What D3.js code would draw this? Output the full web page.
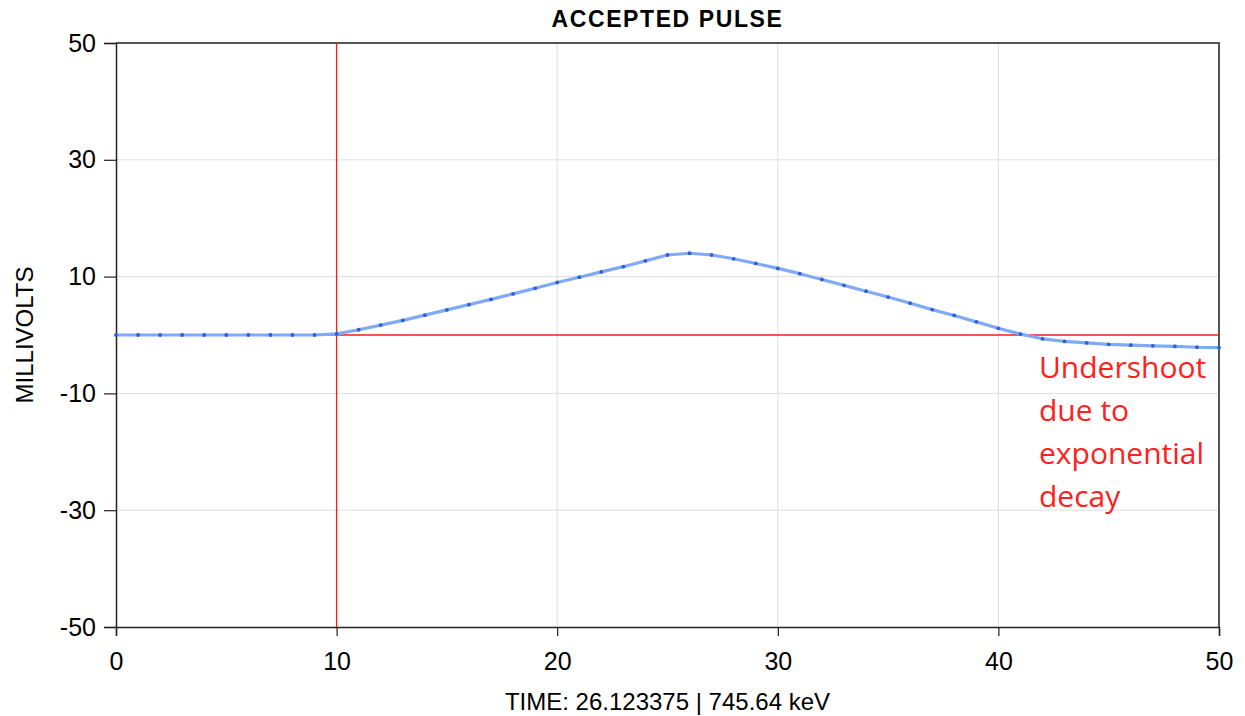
<!DOCTYPE html>
<html>
<head>
<meta charset="utf-8">
<script src="https://cdn.jsdelivr.net/npm/d3@7"></script>
<style>
  html, body { margin: 0; padding: 0; background: #fff; }
  svg { display: block; }
</style>
</head>
<body>
<svg id="chart" width="1245" height="716"></svg>
<script>
// Pulse samples: time (µs) and amplitude (mV)
const times = d3.range(0, 51);
const millivolts = [
  0, 0, 0, 0, 0, 0, 0, 0, 0, 0,
  0.2, 0.9, 1.7, 2.5, 3.4, 4.3, 5.2, 6.1, 7.05, 8.0,
  9.0, 9.9, 10.8, 11.7, 12.7, 13.7, 14.0, 13.7, 13.05, 12.25,
  11.4, 10.5, 9.5, 8.5, 7.5, 6.5, 5.45, 4.35, 3.35, 2.25,
  1.15, 0.15, -0.65, -1.1, -1.35, -1.6, -1.75, -1.85, -1.95, -2.1,
  -2.15
];
const xTicks = [0, 10, 20, 30, 40, 50];
const yTicks = [50, 30, 10, -10, -30, -50];
const triggerTime = 10;
const baseline = 0;
const chartTitle = "ACCEPTED PULSE";
const xTitle = "TIME: 26.123375 | 745.64 keV";
const yTitle = "MILLIVOLTS";
const noteLines = ["Undershoot", "due to", "exponential", "decay"];

const svg = d3.select("#chart");
const plotLeft = 116, plotRight = 1219, plotTop = 43, plotBottom = 627;
const sans = "Arial, 'Liberation Sans', sans-serif";

const x = d3.scaleLinear().domain([0, 50]).range([plotLeft, plotRight]);
const y = d3.scaleLinear().domain([-50, 50]).range([plotBottom, plotTop]);

// grid
const grid = svg.append("g").attr("stroke", "#dedede").attr("stroke-width", 1);
grid.selectAll("line.gx").data(xTicks.slice(1, -1)).join("line")
  .attr("x1", d => x(d)).attr("x2", d => x(d))
  .attr("y1", plotTop).attr("y2", plotBottom);
grid.selectAll("line.gy").data(yTicks.slice(1, -1)).join("line")
  .attr("x1", plotLeft).attr("x2", plotRight)
  .attr("y1", d => y(d)).attr("y2", d => y(d));

// frame (top and right)
svg.append("path")
  .attr("d", `M${plotLeft},${plotTop}H${plotRight}V${plotBottom}`)
  .attr("fill", "none").attr("stroke", "#555").attr("stroke-width", 2);

// axes (plain hyphen for negatives)
const plain = d => String(d);
const xAxis = svg.append("g").attr("transform", `translate(0,${plotBottom})`)
  .call(d3.axisBottom(x).tickValues(xTicks).tickFormat(plain).tickSize(9).tickPadding(10));
const yAxis = svg.append("g").attr("transform", `translate(${plotLeft},0)`)
  .call(d3.axisLeft(y).tickValues(yTicks).tickFormat(plain).tickSize(12).tickPadding(8));
[xAxis, yAxis].forEach(a => {
  a.select(".domain").attr("stroke", "#222").attr("stroke-width", 1.5);
  a.selectAll(".tick line").attr("stroke", "#222").attr("stroke-width", 1.2);
  a.selectAll(".tick text").attr("fill", "#000")
    .style("font-family", sans).style("font-size", "25px");
});
xAxis.selectAll(".tick text").attr("dy", "0.95em");

// trigger and baseline markers
svg.append("line")
  .attr("x1", x(triggerTime)).attr("x2", x(triggerTime))
  .attr("y1", plotTop).attr("y2", plotBottom)
  .attr("stroke", "#ff1a1a").attr("stroke-width", 1.3);
svg.append("line")
  .attr("x1", plotLeft).attr("x2", plotRight)
  .attr("y1", y(baseline)).attr("y2", y(baseline))
  .attr("stroke", "#ff1a1a").attr("stroke-width", 1.3);

// pulse trace
const pts = times.map((t, i) => [t, millivolts[i]]);
svg.append("path").datum(pts)
  .attr("fill", "none").attr("stroke", "#80aaf5").attr("stroke-width", 3.2)
  .attr("stroke-linejoin", "round").attr("stroke-linecap", "round")
  .attr("d", d3.line().x(d => x(d[0])).y(d => y(d[1])));
svg.append("g").selectAll("circle").data(pts).join("circle")
  .attr("cx", d => x(d[0])).attr("cy", d => y(d[1]))
  .attr("r", 1.9).attr("fill", "#2f5fd8");

// titles
svg.append("text").attr("x", (plotLeft + plotRight) / 2).attr("y", 27)
  .attr("text-anchor", "middle")
  .style("font-family", sans).style("font-weight", "bold")
  .style("font-size", "23px").style("letter-spacing", "1.6px")
  .text(chartTitle);
svg.append("text").attr("x", (plotLeft + plotRight) / 2).attr("y", 710)
  .attr("text-anchor", "middle")
  .style("font-family", sans).style("font-size", "24px").text(xTitle);
svg.append("text")
  .attr("transform", `translate(33,${(plotTop + plotBottom) / 2}) rotate(-90)`)
  .attr("text-anchor", "middle")
  .style("font-family", sans).style("font-size", "24px").text(yTitle);

// annotation
svg.append("g").selectAll("text").data(noteLines).join("text")
  .attr("x", 1039).attr("y", (d, i) => 378 + i * 43)
  .style("font-family", "'Open Sans', 'Noto Sans', sans-serif")
  .style("font-size", "30px").style("fill", "#ff2020").text(d => d);
</script>
</body>
</html>
